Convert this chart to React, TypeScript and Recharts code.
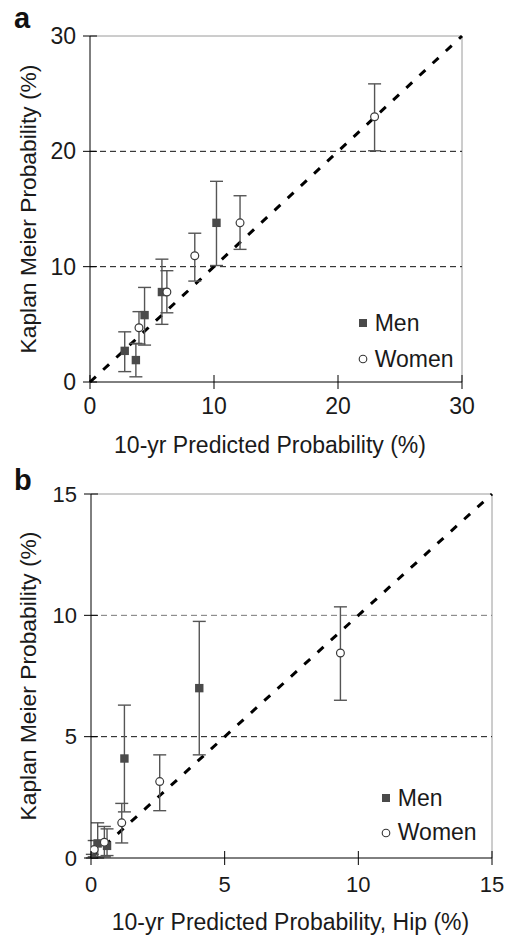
import React from 'react';
import { ScatterChart, Scatter, XAxis, YAxis, ErrorBar, ReferenceLine, Legend } from 'recharts';

const FONT = '"Liberation Sans", Arial, Helvetica, sans-serif';
const TEXT = '#1a1a1a';

// ---------- Panel a ----------
const aTicks = [0, 10, 20, 30];
const aGrid = [10, 20];
const aMax = 30;
const menAX = [2.8, 3.7, 4.4, 5.8, 10.2];
const menAY = [2.7, 1.9, 5.8, 7.8, 13.8];
const menALow = [0.9, 0.45, 3.2, 5.0, 10.1];
const menAHigh = [4.35, 3.35, 8.2, 10.65, 17.4];
const womenAX = [3.95, 6.2, 8.45, 12.1, 22.95];
const womenAY = [4.7, 7.8, 10.95, 13.8, 23.0];
const womenALow = [3.3, 6.0, 8.75, 11.5, 20.05];
const womenAHigh = [6.1, 9.65, 12.9, 16.15, 25.85];

// ---------- Panel b ----------
const bTicks = [0, 5, 10, 15];
const bGrid = [5, 10];
const bMax = 15;
const menBX = [0.05, 0.25, 0.6, 1.25, 4.05];
const menBY = [0.0, 0.6, 0.5, 4.1, 7.0];
const menBLow = [0.0, 0.0, 0.1, 1.9, 4.25];
const menBHigh = [0.15, 1.45, 1.2, 6.3, 9.75];
const womenBX = [0.12, 0.5, 1.15, 2.57, 9.33];
const womenBY = [0.35, 0.65, 1.45, 3.15, 8.45];
const womenBLow = [0.05, 0.05, 0.62, 1.95, 6.5];
const womenBHigh = [0.72, 1.3, 2.25, 4.25, 10.35];

const seriesNames = ['Men', 'Women'];

function build(xs: number[], ys: number[], lo: number[], hi: number[]) {
  return xs.map((x, i) => ({ x, y: ys[i], err: [ys[i] - lo[i], hi[i] - ys[i]] }));
}

const MenShape = (p: any) => (
  <rect x={p.cx - 4.2} y={p.cy - 4.2} width={8.4} height={8.4} fill="#4a4a4a" />
);
const WomenShape = (p: any) => (
  <circle cx={p.cx} cy={p.cy} r={3.9} fill="#ffffff" stroke="#3a3a3a" strokeWidth={1.2} />
);

const TS = 7; // tick size
const makeYTick = (fontSize: number) => (props: any) => {
  const { x, y, payload } = props;
  const axisX = x + TS + 7;
  return (
    <g>
      <line x1={axisX - TS} x2={axisX + TS} y1={y} y2={y} stroke="#000" strokeWidth={1} />
      <text x={x} y={y} dy="0.355em" textAnchor="end" fontSize={fontSize} fontFamily={FONT} fill={TEXT}>
        {payload.value}
      </text>
    </g>
  );
};
const makeXTick = (fontSize: number, margin: number) => (props: any) => {
  const { x, y, payload } = props;
  const axisY = y - TS - margin;
  return (
    <g>
      <line x1={x} x2={x} y1={axisY - TS} y2={axisY + TS} stroke="#000" strokeWidth={1} />
      <text x={x} y={y} dy="0.71em" textAnchor="middle" fontSize={fontSize} fontFamily={FONT} fill={TEXT}>
        {payload.value}
      </text>
    </g>
  );
};

const makeLegend = (rowH: number, gap: number) => () => (
  <div style={{ fontFamily: FONT, fontSize: 23, color: TEXT }}>
    {seriesNames.map((n, i) => (
      <div key={n} style={{ display: 'flex', alignItems: 'center', height: rowH, lineHeight: rowH + 'px' }}>
        <svg width={14} height={14} style={{ display: 'block' }}>
          {i === 0 ? (
            <rect x={3} y={3} width={8} height={8} fill="#4a4a4a" />
          ) : (
            <circle cx={7} cy={7} r={3.8} fill="#fff" stroke="#333" strokeWidth={1.1} />
          )}
        </svg>
        <span style={{ marginLeft: gap, whiteSpace: 'nowrap' }}>{n}</span>
      </div>
    ))}
  </div>
);

type PanelProps = {
  width: number;
  height: number;
  margin: { top: number; right: number; bottom: number; left: number };
  yAxisWidth: number;
  max: number;
  ticks: number[];
  grid: number[];
  gridColors: string[];
  men: any[];
  women: any[];
  xTitle: string;
  xTitleDx: number;
  xTitleDy: number;
  tickFont: number;
  xTickMargin: number;
  legendPos: { left: number; top: number };
  legendRowH: number;
};

function Panel(p: PanelProps) {
  return (
    <ScatterChart width={p.width} height={p.height} margin={p.margin}>
      <XAxis
        type="number"
        dataKey="x"
        domain={[0, p.max]}
        ticks={p.ticks}
        allowDataOverflow
        height={30}
        stroke="#000"
        tickLine={false}
        tickSize={TS}
        tickMargin={p.xTickMargin}
        tick={makeXTick(p.tickFont, p.xTickMargin)}
        label={(lp: any) => {
          const vb = lp.viewBox;
          return (
            <text
              x={vb.x + vb.width / 2 + p.xTitleDx}
              y={vb.y + vb.height + p.xTitleDy}
              dy="0.71em"
              textAnchor="middle"
              fontSize={23}
              fontFamily={FONT}
              fill={TEXT}
            >
              {p.xTitle}
            </text>
          );
        }}
      />
      <YAxis
        type="number"
        dataKey="y"
        domain={[0, p.max]}
        ticks={p.ticks}
        allowDataOverflow
        width={p.yAxisWidth}
        stroke="#000"
        tickLine={false}
        tickSize={TS}
        tickMargin={7}
        tick={makeYTick(p.tickFont)}
        label={(lp: any) => {
          const vb = lp.viewBox;
          const cx = vb.x + 28;
          const cy = vb.y + vb.height / 2;
          return (
            <text
              x={cx}
              y={cy}
              dy="0.355em"
              textAnchor="middle"
              transform={`rotate(-90, ${cx}, ${cy})`}
              fontSize={22.8}
              fontFamily={FONT}
              fill={TEXT}
            >
              Kaplan Meier Probability (%)
            </text>
          );
        }}
      />
      <ReferenceLine y={p.max} stroke="#9a9a9a" strokeWidth={1} />
      <ReferenceLine x={p.max} stroke="#9a9a9a" strokeWidth={1} />
      {p.grid.map((g, i) => (
        <ReferenceLine key={g} y={g} stroke={p.gridColors[i]} strokeWidth={1} strokeDasharray="6 4" />
      ))}
      <ReferenceLine
        segment={[
          { x: 0, y: 0 },
          { x: p.max, y: p.max },
        ]}
        stroke="#000"
        strokeWidth={3}
        strokeDasharray="8 10"
      />
      <Scatter name="Men" data={p.men} shape={MenShape} isAnimationActive={false}>
        <ErrorBar dataKey="err" direction="y" width={6.5} stroke="#555" strokeWidth={1.4} />
      </Scatter>
      <Scatter name="Women" data={p.women} shape={WomenShape} isAnimationActive={false}>
        <ErrorBar dataKey="err" direction="y" width={6.5} stroke="#555" strokeWidth={1.4} />
      </Scatter>
      <Legend
        layout="vertical"
        align="center"
        verticalAlign="middle"
        content={makeLegend(p.legendRowH, 5)}
        wrapperStyle={{ left: p.legendPos.left, top: p.legendPos.top, width: 'auto', height: 'auto' }}
      />
    </ScatterChart>
  );
}

export default function App() {
  return (
    <div style={{ position: 'absolute', left: 0, top: 0, width: 508, height: 936, background: '#fff', fontFamily: FONT }}>
      <div style={{ position: 'absolute', left: 0, top: 0 }}>
        <Panel
          width={508}
          height={470}
          margin={{ top: 36, right: 46, bottom: 58, left: 0 }}
          yAxisWidth={90}
          max={aMax}
          ticks={aTicks}
          grid={aGrid}
          gridColors={['#111', '#111']}
          men={build(menAX, menAY, menALow, menAHigh)}
          women={build(womenAX, womenAY, womenALow, womenAHigh)}
          xTitle="10-yr Predicted Probability (%)"
          xTitleDx={-6}
          xTitleDy={25}
          tickFont={23}
          xTickMargin={9}
          legendPos={{ left: 355.7, top: 305.3 }}
          legendRowH={36}
        />
      </div>
      <div style={{ position: 'absolute', left: 0, top: 470 }}>
        <Panel
          width={508}
          height={466}
          margin={{ top: 24, right: 16, bottom: 48, left: 0 }}
          yAxisWidth={91}
          max={bMax}
          ticks={bTicks}
          grid={bGrid}
          gridColors={['#111', '#777']}
          men={build(menBX, menBY, menBLow, menBHigh)}
          women={build(womenBX, womenBY, womenBLow, womenBHigh)}
          xTitle="10-yr Predicted Probability, Hip (%)"
          xTitleDx={-1}
          xTitleDy={26}
          tickFont={22}
          xTickMargin={11}
          legendPos={{ left: 378.8, top: 311.1 }}
          legendRowH={34.4}
        />
      </div>
      <div style={{ position: 'absolute', left: 14, top: 3.5, fontSize: 29, lineHeight: '29px', fontWeight: 'bold', color: '#111' }}>a</div>
      <div style={{ position: 'absolute', left: 14, top: 465.5, fontSize: 29, lineHeight: '29px', fontWeight: 'bold', color: '#111' }}>b</div>
    </div>
  );
}
